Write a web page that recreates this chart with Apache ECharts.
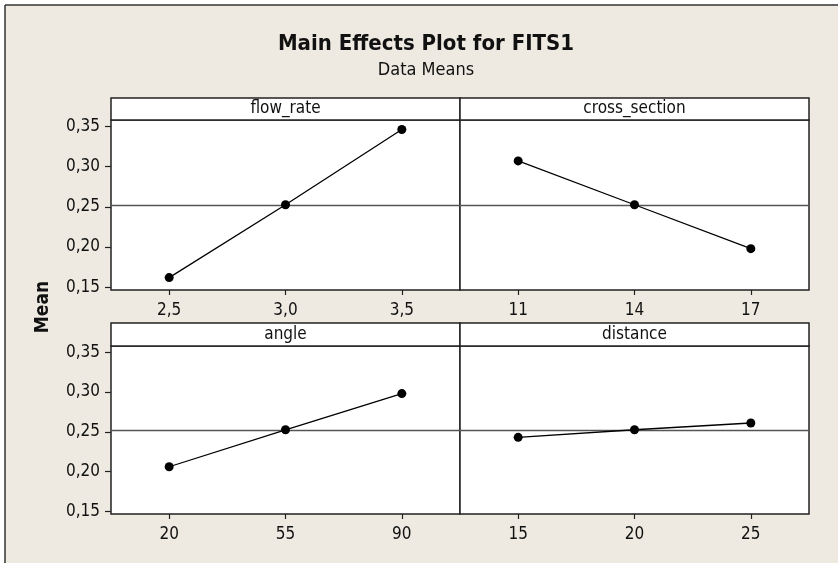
<!DOCTYPE html>
<html>
<head>
<meta charset="utf-8">
<script src="https://cdn.jsdelivr.net/npm/echarts@6/dist/echarts.min.js"></script>
<style>html,body{margin:0;padding:0;background:#fff}#c{width:838px;height:563px}</style>
</head>
<body>
<div id="c"></div>
<script>
// ---- data ----
const panelNames = ['flow_rate', 'cross_section', 'angle', 'distance'];
const flowCats = ['2,5', '3,0', '3,5'];
const crossCats = ['11', '14', '17'];
const angleCats = ['20', '55', '90'];
const distCats = ['15', '20', '25'];
const flowMeans = [0.162, 0.2525, 0.346];
const crossMeans = [0.307, 0.2525, 0.198];
const angleMeans = [0.206, 0.2525, 0.298];
const distMeans = [0.243, 0.2525, 0.261];
const grandMean = 0.2525;
const yTicks = [0.15, 0.20, 0.25, 0.30, 0.35];
const titleText = 'Main Effects Plot for FITS1';
const subtitleText = 'Data Means';
const yName = 'Mean';

// ---- layout ----
const FONT = "'DejaVu Sans Condensed', 'DejaVu Sans', sans-serif";
const BG = '#EEEAE1';
const LINE = '#222';
const cols = [{ left: 111, width: 349 }, { left: 460, width: 349 }];
const rows = [{ top: 120, height: 170, hTop: 98 }, { top: 346, height: 168, hTop: 323 }];
const YMIN = 0.1466, YMAX = 0.3578;

const cats = [flowCats, crossCats, angleCats, distCats];
const vals = [flowMeans, crossMeans, angleMeans, distMeans];

const grids = [], xAxes = [], yAxes = [], series = [], graphics = [];

// frame
graphics.push({ type: 'rect', shape: { x: 0, y: 0, width: 838, height: 5 }, style: { fill: '#fff' }, silent: true });
graphics.push({ type: 'rect', shape: { x: 0, y: 0, width: 5, height: 563 }, style: { fill: '#fff' }, silent: true });
graphics.push({ type: 'line', shape: { x1: 5, y1: 5, x2: 838, y2: 5 }, style: { stroke: '#333', lineWidth: 1.5 }, silent: true });
graphics.push({ type: 'line', shape: { x1: 5, y1: 5, x2: 5, y2: 563 }, style: { stroke: '#333', lineWidth: 1.5 }, silent: true });

graphics.push({ type: 'text', x: 426, y: 44, style: { text: titleText, font: 'bold 22px ' + FONT, fill: '#111', align: 'center', verticalAlign: 'middle' } });
graphics.push({ type: 'text', x: 426, y: 70, style: { text: subtitleText, font: '18px ' + FONT, fill: '#111', align: 'center', verticalAlign: 'middle' } });
graphics.push({ type: 'text', x: 43, y: 307, rotation: Math.PI / 2, style: { text: yName, font: 'bold 19px ' + FONT, fill: '#111', align: 'center', verticalAlign: 'middle' } });

for (let i = 0; i < 4; i++) {
  const r = rows[Math.floor(i / 2)], c = cols[i % 2];
  grids.push({ left: c.left, top: r.top, width: c.width, height: r.height, show: true, backgroundColor: '#fff', borderColor: LINE, borderWidth: 1.5 });
  xAxes.push({
    type: 'category', gridIndex: i, data: cats[i], boundaryGap: true,
    axisLine: { show: false },
    axisTick: { show: true, alignWithLabel: true, length: 5, lineStyle: { color: LINE, width: 1.2 } },
    axisLabel: { fontSize: 17, fontFamily: FONT, color: '#111', margin: 12 },
    splitLine: { show: false }
  });
  const leftCol = (i % 2 === 0);
  yAxes.push({
    type: 'value', gridIndex: i, min: YMIN, max: YMAX,
    axisLine: { show: false },
    axisTick: { show: leftCol, length: 6, customValues: yTicks, lineStyle: { color: LINE, width: 1.2 } },
    axisLabel: { show: leftCol, customValues: yTicks, fontSize: 17, fontFamily: FONT, color: '#111', margin: 11,
      formatter: v => v.toFixed(2).replace('.', ',') },
    splitLine: { show: false }
  });
  series.push({
    type: 'line', xAxisIndex: i, yAxisIndex: i, data: vals[i],
    symbol: 'circle', symbolSize: 9, itemStyle: { color: '#000' },
    lineStyle: { color: '#000', width: 1.3 }, animation: false, z: 5,
    markLine: { silent: true, symbol: 'none', precision: 6, label: { show: false }, animation: false,
      lineStyle: { color: '#555', type: 'solid', width: 1.3 }, data: [{ yAxis: grandMean }] }
  });
  // header box
  const hH = r.top - r.hTop;
  graphics.push({ type: 'rect', shape: { x: c.left, y: r.hTop, width: c.width, height: hH },
    style: { fill: '#fff', stroke: LINE, lineWidth: 1.5 }, z: 10 });
  graphics.push({ type: 'text', x: c.left + c.width / 2, y: r.hTop + hH / 2, z: 11,
    style: { text: panelNames[i], font: '17px ' + FONT, fill: '#111', align: 'center', verticalAlign: 'middle' } });
}

const chart = echarts.init(document.getElementById('c'), null, { renderer: 'canvas' });
chart.setOption({
  backgroundColor: BG,
  animation: false,
  grid: grids, xAxis: xAxes, yAxis: yAxes, series: series,
  graphic: graphics
});
</script>
</body>
</html>
